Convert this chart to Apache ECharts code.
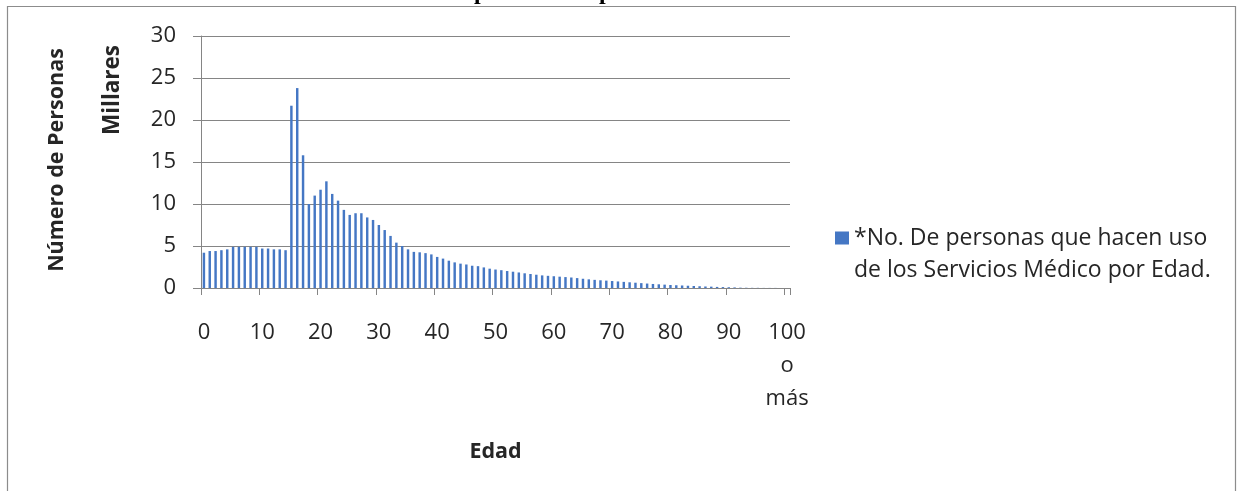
<!DOCTYPE html>
<html>
<head>
<meta charset="utf-8">
<script src="https://cdn.jsdelivr.net/npm/echarts@6/dist/echarts.min.js"></script>
<style>
html,body{margin:0;padding:0;background:#fff;}
#chart{width:1243px;height:491px;}
</style>
</head>
<body>
<div id="chart"></div>
<script>
// Categories: ages 0..99 and "100 o más"
const ages = [];
for (let a = 0; a < 100; a++) ages.push(String(a));
ages.push('100 o más');

// Number of persons (thousands) per age
const personas = [
  4.2, 4.4, 4.4, 4.5, 4.6, 4.9, 4.9, 4.9, 4.9, 4.9,
  4.7, 4.7, 4.6, 4.6, 4.5, 21.7, 23.8, 15.8, 10.0, 11.0,
  11.7, 12.7, 11.2, 10.4, 9.3, 8.7, 8.9, 8.9, 8.4, 8.1,
  7.5, 6.9, 6.2, 5.4, 5.0, 4.6, 4.3, 4.25, 4.15, 4.0,
  3.7, 3.5, 3.25, 3.05, 2.9, 2.8, 2.65, 2.6, 2.45, 2.3,
  2.2, 2.12, 2.02, 1.94, 1.85, 1.75, 1.67, 1.58, 1.5, 1.45,
  1.4, 1.35, 1.3, 1.25, 1.18, 1.1, 1.03, 0.97, 0.92, 0.88,
  0.83, 0.78, 0.73, 0.68, 0.63, 0.58, 0.53, 0.48, 0.44, 0.4,
  0.36, 0.33, 0.3, 0.27, 0.24, 0.21, 0.18, 0.16, 0.13, 0.11,
  0.09, 0.07, 0.04, 0.03, 0.02, 0.02, 0.01, 0.01, 0.01, 0, 0
];

const seriesName = '*No. De personas que hacen uso\nde los Servicios Médico por Edad.';
const yTitle = 'Número de Personas';
const unitLabel = 'Millares';
const xTitle = 'Edad';

const FONT = '"Open Sans", sans-serif';
const TXT = '#262626';
const GRID = '#858585';

const chart = echarts.init(document.getElementById('chart'));
chart.setOption({
  animation: false,
  backgroundColor: '#ffffff',
  grid: { left: 201, right: 453, top: 36, bottom: 203 },
  legend: {
    orient: 'vertical',
    left: 830,
    top: 217,
    itemWidth: 14,
    itemHeight: 46,
    icon: 'path://M0,0h14v13h-14z M0,45h0.05v0.05h-0.05z',
    data: [seriesName],
    textStyle: { fontFamily: FONT, fontSize: 23, color: TXT, lineHeight: 32 }
  },
  xAxis: {
    type: 'category',
    data: ages,
    boundaryGap: true,
    name: xTitle,
    nameLocation: 'middle',
    nameGap: 153,
    nameTextStyle: { fontFamily: FONT, fontSize: 21.5, fontWeight: 'bold', color: TXT },
    axisLine: { lineStyle: { color: GRID, width: 1 } },
    axisTick: { show: true, interval: 9, length: 7, lineStyle: { color: GRID } },
    axisLabel: {
      interval: 9, margin: 28, fontFamily: FONT, fontSize: 22, color: TXT, lineHeight: 33,
      formatter: v => v.replace(' o ', '\no\n')
    },
    splitLine: { show: false }
  },
  yAxis: {
    type: 'value',
    min: 0, max: 30, interval: 5,
    axisLine: { show: true, lineStyle: { color: GRID, width: 1 } },
    axisTick: { show: true, length: 8, lineStyle: { color: GRID } },
    axisLabel: { margin: 25, fontFamily: FONT, fontSize: 22, color: TXT },
    splitLine: { lineStyle: { color: GRID, width: 1.2 } }
  },
  series: [{
    name: seriesName,
    type: 'bar',
    data: personas,
    barWidth: '42%',
    itemStyle: { color: '#4577c4' }
  }],
  graphic: [
    { type: 'rect', shape: { x: 7.5, y: 6.5, width: 1228, height: 500 },
      style: { fill: 'none', stroke: '#8c8c8c', lineWidth: 1.2 }, silent: true, z: -1 },
    { type: 'text', x: 57, y: 160, rotation: Math.PI / 2,
      style: { text: yTitle, fontFamily: FONT, fontSize: 21.5, fontWeight: 'bold', fill: TXT,
               textAlign: 'center', textVerticalAlign: 'middle' } },
    { type: 'text', x: 113, y: 90, rotation: Math.PI / 2,
      style: { text: unitLabel, fontFamily: FONT, fontSize: 22.5, fontWeight: 'bold', fill: TXT,
               textAlign: 'center', textVerticalAlign: 'middle' } },
    { type: 'text', x: 474, y: 5,
      style: { text: 'p', fontFamily: '"Liberation Serif", serif', fontSize: 24, fontWeight: 'bold', fill: '#000',
               textAlign: 'left', textVerticalAlign: 'bottom' } },
    { type: 'text', x: 599, y: 5,
      style: { text: 'p', fontFamily: '"Liberation Serif", serif', fontSize: 24, fontWeight: 'bold', fill: '#000',
               textAlign: 'left', textVerticalAlign: 'bottom' } }
  ]
});
</script>
</body>
</html>
